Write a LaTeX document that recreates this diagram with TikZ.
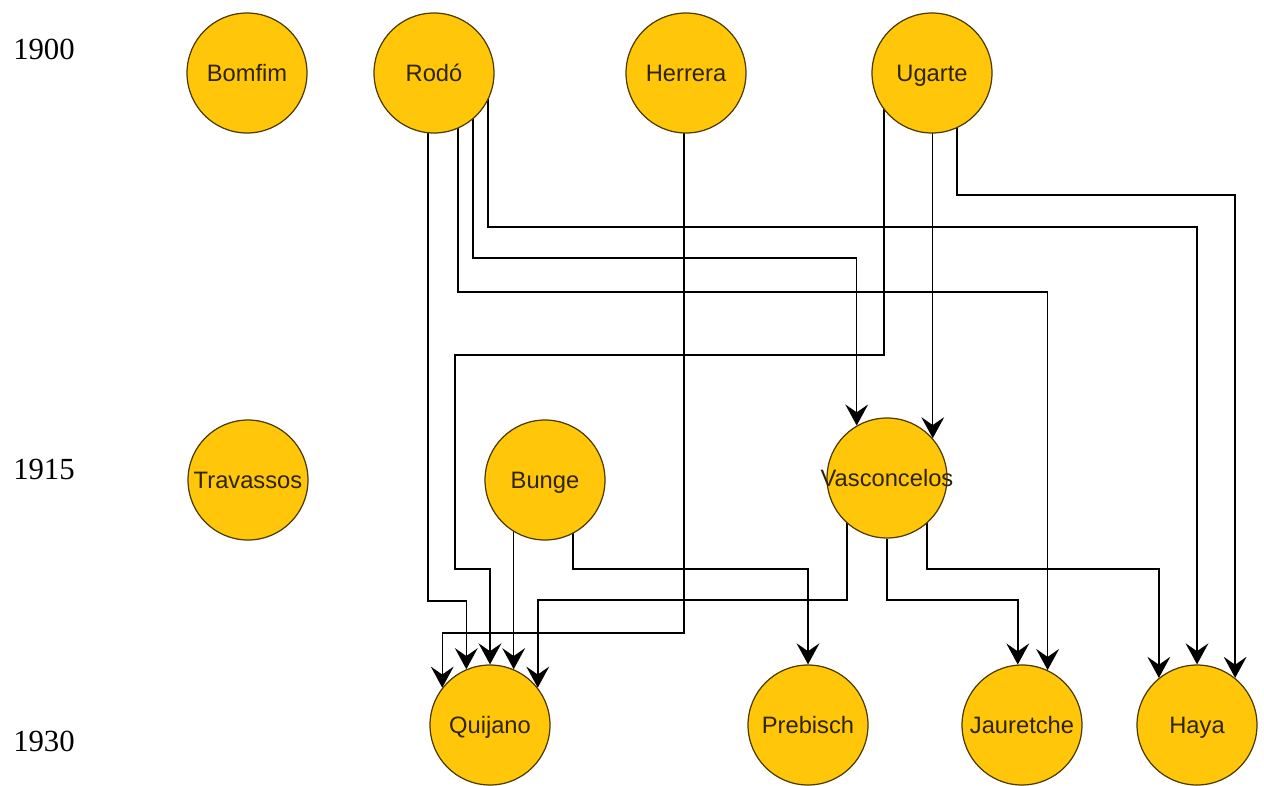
\documentclass[tikz,border=0pt]{standalone}
\usepackage{fontspec}
\setmainfont{Liberation Serif}
\newfontfamily\nodefont{Liberation Sans}
\usetikzlibrary{arrows.meta,calc,backgrounds}

\definecolor{nodefill}{HTML}{FFC60A}
\definecolor{nodeline}{HTML}{4D3B00}
\definecolor{nodetext}{HTML}{2E2400}

% keep long names from blowing up the circle
\newcommand{\pname}[1]{\makebox[0pt]{#1}}

\tikzset{
  person/.style={circle, draw=nodeline, fill=nodefill, line width=0.7pt,
    minimum size=2.4cm, inner sep=0pt, text=nodetext,
    text height=9.5pt, text depth=0pt,
    font=\nodefont\fontsize{13.5}{16}\selectfont},
  year/.style={font=\fontsize{17.5}{20}\selectfont},
  link/.style={line width=0.85pt, -{Stealth[length=12pt,width=13pt,inset=4.5pt]}}
}

\begin{document}
\begin{tikzpicture}[x=0.02cm, y=-0.02cm]
  \useasboundingbox (0,0) rectangle (1264,785);

  % Years
  \node [year] (y1900) at (44,49) {1900};
  \node [year] (y1915) at (44,469) {1915};
  \node [year] (y1930) at (44,741) {1930};

  % 1900
  \node [person] (bomfim)  at (247,73) {\pname{Bomfim}};
  \node [person] (rodo)    at (434,73) {\pname{Rodó}};
  \node [person] (herrera) at (686,73) {\pname{Herrera}};
  \node [person] (ugarte)  at (932,73) {\pname{Ugarte}};

  % 1915
  \node [person] (travassos)   at (248,480) {\pname{Travassos}};
  \node [person] (bunge)       at (545,480) {\pname{Bunge}};
  \node [person] (vasconcelos) at (887,478) {\pname{Vasconcelos}};

  % 1930
  \node [person] (quijano)   at (490,725)  {\pname{Quijano}};
  \node [person] (prebisch)  at (808,725)  {\pname{Prebisch}};
  \node [person] (jauretche) at (1022,725) {\pname{Jauretche}};
  \node [person] (haya)      at (1197,725) {\pname{Haya}};

  % Influences, drawn behind the circles
  \begin{scope}[on background layer]
    % Rodó
    \draw [link] ($(rodo)+(-6,0)$) -- ++(0,528) -| (quijano.113);
    \draw [link] ($(rodo)+(24,0)$) -- ++(0,219) -| (jauretche.65);
    \draw [link] ($(rodo)+(39,0)$) -- ++(0,185) -| (vasconcelos.120);
    \draw [link] ($(rodo)+(54,0)$) -- ++(0,154) -| (haya.90);
    % Herrera
    \draw [link] ($(herrera)+(-2,0)$) -- ++(0,560) -| (quijano.142);
    % Ugarte
    \draw [link] ($(ugarte)+(-48,0)$) -- ++(0,282) -- ++(-429,0) -- ++(0,214) -| (quijano.90);
    \draw [link] (vasconcelos.41 |- ugarte.center) -- (vasconcelos.41);
    \draw [link] ($(ugarte)+(25,0)$) -- ++(0,122) -| (haya.51);
    % Bunge
    \draw [link] (quijano.67 |- bunge.center) -- (quijano.67);
    \draw [link] ($(bunge)+(28,0)$) -- ++(0,89) -| (prebisch.90);
    % Vasconcelos
    \draw [link] ($(vasconcelos)+(-40,0)$) -- ++(0,122) -| (quijano.38);
    \draw [link] (vasconcelos) -- ++(0,122) -| (jauretche.94);
    \draw [link] ($(vasconcelos)+(40,0)$) -- ++(0,91) -| (haya.129);
  \end{scope}
\end{tikzpicture}
\end{document}
